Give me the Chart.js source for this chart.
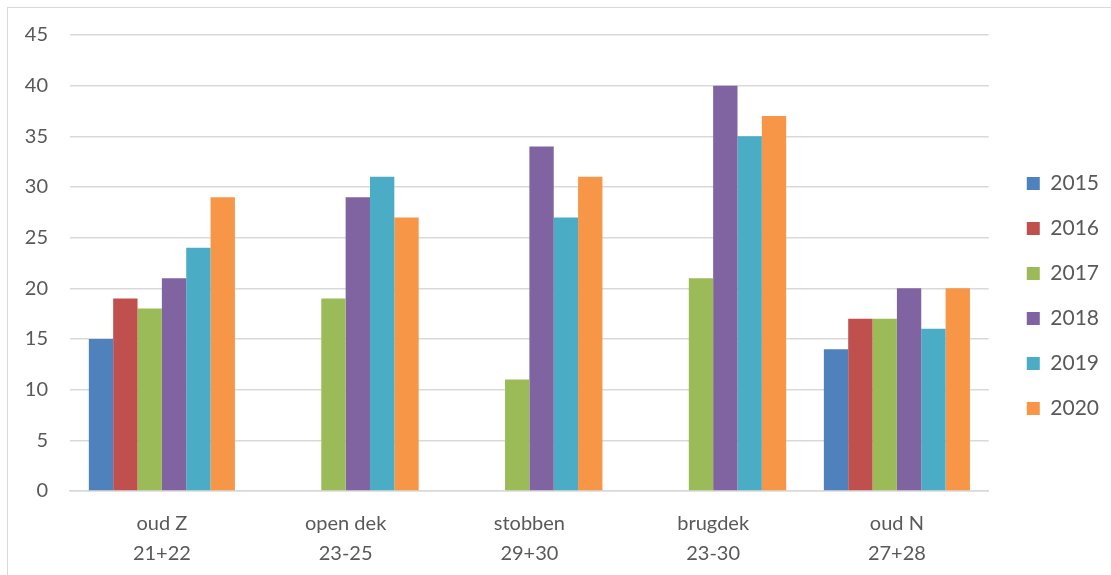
<!DOCTYPE html>
<html>
<head>
<meta charset="utf-8">
<script src="https://cdn.jsdelivr.net/npm/chart.js@4/dist/chart.umd.min.js"></script>
<style>
  html, body { margin: 0; padding: 0; background: #fff; }
  #wrap { position: relative; width: 1111px; height: 575px; overflow: hidden; }
  #frame { position: absolute; left: 7px; top: 7px; width: 1200px; height: 700px; border: 1.5px solid #d9d9d9; box-sizing: border-box; }
  canvas { position: absolute; left: 0; top: 0; }
</style>
</head>
<body>
<div id="wrap">
  <div id="frame"></div>
  <canvas id="c" width="1111" height="575"></canvas>
</div>
<script>
// Plot locations (two-line labels)
const categories = [
  ['oud Z', '21+22'],
  ['open dek', '23-25'],
  ['stobben', '29+30'],
  ['brugdek', '23-30'],
  ['oud N', '27+28']
];

const years = ['2015', '2016', '2017', '2018', '2019', '2020'];

// Counts per year, one value per location (null = not counted)
const v2015 = [15, null, null, null, 14];
const v2016 = [19, null, null, null, 17];
const v2017 = [18, 19, 11, 21, 17];
const v2018 = [21, 29, 34, 40, 20];
const v2019 = [24, 31, 27, 35, 16];
const v2020 = [29, 27, 31, 37, 20];

const yTicks = [0, 5, 10, 15, 20, 25, 30, 35, 40, 45];

const seriesValues = [v2015, v2016, v2017, v2018, v2019, v2020];
const colors = ['#4F81BD', '#C0504D', '#9BBB59', '#8064A2', '#4BACC6', '#F79646'];

const FONT = 'Lato, "Open Sans", sans-serif';
const TXT = '#595959';

const LEGEND_EXTRA_W = 13;   // extra room reserved for the legend column
const LEGEND_SHIFT = { x: 14, y: -9 };

const chart = new Chart(document.getElementById('c'), {
  type: 'bar',
  data: {
    labels: categories,
    datasets: years.map((y, i) => ({
      label: y,
      data: seriesValues[i],
      backgroundColor: colors[i],
      borderWidth: 0,
      categoryPercentage: 0.795,
      barPercentage: 1.0
    }))
  },
  options: {
    responsive: false,
    animation: false,
    layout: { padding: { top: 35, right: 3, bottom: 0, left: 0 } },
    plugins: {
      tooltip: { enabled: false },
      legend: {
        position: 'right',
        align: 'center',
        labels: {
          boxWidth: 13,
          boxHeight: 13,
          padding: 24,
          color: TXT,
          font: { family: FONT, size: 21 }
        }
      }
    },
    scales: {
      x: {
        grid: { display: false },
        border: { display: true, color: '#d9d9d9', width: 1.5 },
        ticks: {
          color: TXT,
          padding: 10,
          maxRotation: 0,
          font: { family: FONT, size: 20, lineHeight: 1.5 }
        },
        afterFit(s) { s.height = 84; }
      },
      y: {
        min: 0,
        max: 45,
        afterBuildTicks(s) { s.ticks = yTicks.map(v => ({ value: v })); },
        grid: { color: '#d9d9d9', lineWidth: 1.5, drawTicks: false },
        border: { display: false },
        ticks: {
          color: TXT,
          padding: 22,
          font: { family: FONT, size: 20 }
        },
        afterFit(s) { s.width = 70; }
      }
    }
  }
});

// Legend column: reserve a little more width and nudge the entries
const lg = chart.legend;
const origFit = lg.fit;
lg.fit = function () { origFit.call(this); this.width += LEGEND_EXTRA_W; };
const origDraw = lg.draw;
lg.draw = function () {
  const ctx = this.ctx;
  ctx.save();
  ctx.translate(LEGEND_SHIFT.x, LEGEND_SHIFT.y);
  origDraw.call(this);
  ctx.restore();
};
chart.update();
</script>
</body>
</html>
